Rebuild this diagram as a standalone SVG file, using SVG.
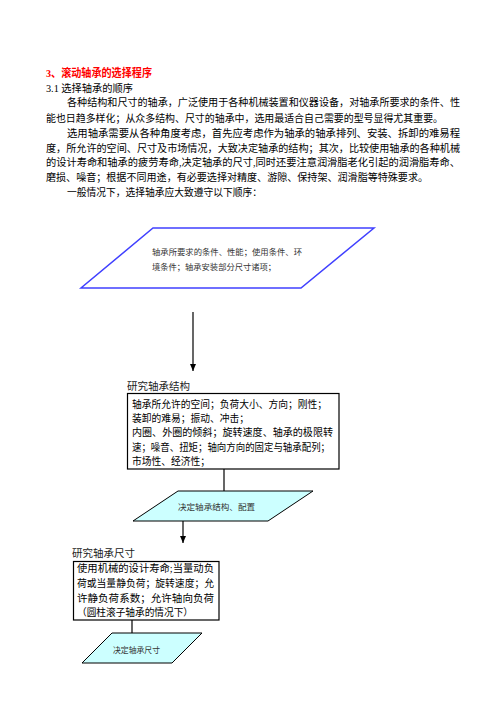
<svg xmlns="http://www.w3.org/2000/svg" width="500" height="706" viewBox="0 0 500 706">
<defs>
<style>
text{font-family:"Liberation Serif","Noto Sans CJK SC",serif;fill:#000;}
.p{font-size:10.5px;}
.t{font-size:11px;font-weight:bold;fill:#ff0000;}
.b{font-size:10px;}
.s{font-size:8.5px;fill:#333;}
.h{font-size:10.5px;fill:#222;}
.box{fill:#fff;stroke:#000;stroke-width:1.2;}
.cy{fill:#ccffff;stroke:#000;stroke-width:1;}
.bl{fill:#fff;stroke:#4040ff;stroke-width:1.5;}
.ln{stroke:#000;stroke-width:1.2;fill:none;}
</style>
<marker id="ah" markerWidth="8" markerHeight="8" refX="7" refY="4" orient="auto" markerUnits="userSpaceOnUse">
<path d="M0,1 L7,4 L0,7 Z" fill="#000"/>
</marker>
</defs>
<rect width="500" height="706" fill="#fff"/>
<g id="heading">
<text class="t" x="46" y="77" textLength="106" lengthAdjust="spacingAndGlyphs">3、滚动轴承的选择程序</text>
<text class="p" x="46" y="92" textLength="87" lengthAdjust="spacingAndGlyphs">3.1 选择轴承的顺序</text>
<text class="p" x="67" y="106" textLength="393" lengthAdjust="spacingAndGlyphs">各种结构和尺寸的轴承，广泛使用于各种机械装置和仪器设备，对轴承所要求的条件、性</text>
<text class="p" x="46" y="122" textLength="397" lengthAdjust="spacingAndGlyphs">能也日趋多样化；从众多结构、尺寸的轴承中，选用最适合自己需要的型号显得尤其重要。</text>
<text class="p" x="67" y="137" textLength="393" lengthAdjust="spacingAndGlyphs">选用轴承需要从各种角度考虑，首先应考虑作为轴承的轴承排列、安装、拆卸的难易程</text>
<text class="p" x="46" y="152" textLength="414" lengthAdjust="spacingAndGlyphs">度，所允许的空间、尺寸及市场情况，大致决定轴承的结构；其次，比较使用轴承的各种机械</text>
<text class="p" x="46" y="166" textLength="414" lengthAdjust="spacingAndGlyphs">的设计寿命和轴承的疲劳寿命,决定轴承的尺寸,同时还要注意润滑脂老化引起的润滑脂寿命、</text>
<text class="p" x="46" y="181" textLength="382" lengthAdjust="spacingAndGlyphs">磨损、噪音；根据不同用途，有必要选择对精度、游隙、保持架、润滑脂等特殊要求。</text>
<text class="p" x="67" y="196" textLength="195" lengthAdjust="spacingAndGlyphs">一般情况下，选择轴承应大致遵守以下顺序：</text>
</g>
<g id="connectors">
<line class="ln" x1="193" y1="312" x2="193" y2="371" marker-end="url(#ah)"/>
<line class="ln" x1="224" y1="469" x2="224" y2="491"/>
<line class="ln" x1="183" y1="521" x2="183" y2="543" marker-end="url(#ah)"/>
<line class="ln" x1="132" y1="620" x2="132" y2="633"/>
</g>
<g id="node-requirements">
<polygon class="bl" points="153,228 374,228 301,288 81,288"/>
<text class="s" x="152" y="255" textLength="150" lengthAdjust="spacingAndGlyphs">轴承所要求的条件、性能；使用条件、环</text>
<text class="s" x="152" y="270" textLength="124" lengthAdjust="spacingAndGlyphs">境条件；轴承安装部分尺寸诸项；</text>
</g>
<g id="node-structure">
<text class="h" x="127" y="390" textLength="63" lengthAdjust="spacingAndGlyphs">研究轴承结构</text>
<rect class="box" x="127.5" y="393.5" width="211.5" height="75.5"/>
<text class="b" x="132" y="408" textLength="195" lengthAdjust="spacingAndGlyphs">轴承所允许的空间；负荷大小、方向；刚性；</text>
<text class="b" x="132" y="422" textLength="117" lengthAdjust="spacingAndGlyphs">装卸的难易；振动、冲击；</text>
<text class="b" x="132" y="436" textLength="201" lengthAdjust="spacingAndGlyphs">内圈、外圈的倾斜；旋转速度、轴承的极限转</text>
<text class="b" x="132" y="451" textLength="198" lengthAdjust="spacingAndGlyphs">速；噪音、扭矩；轴向方向的固定与轴承配列；</text>
<text class="b" x="132" y="465" textLength="78" lengthAdjust="spacingAndGlyphs">市场性、经济性；</text>
</g>
<g id="node-decide-structure">
<polygon class="cy" points="178,491 313,491 268,521 133,521"/>
<text class="s" x="178" y="510" textLength="77" lengthAdjust="spacingAndGlyphs">决定轴承结构、配置</text>
</g>
<g id="node-size">
<text class="h" x="72" y="557" textLength="63" lengthAdjust="spacingAndGlyphs">研究轴承尺寸</text>
<rect class="box" x="73.5" y="561.5" width="145.5" height="58.5"/>
<text class="b" x="77" y="572" textLength="137" lengthAdjust="spacingAndGlyphs">使用机械的设计寿命;当量动负</text>
<text class="b" x="77" y="587" textLength="137" lengthAdjust="spacingAndGlyphs">荷或当量静负荷；旋转速度；允</text>
<text class="b" x="77" y="602" textLength="137" lengthAdjust="spacingAndGlyphs">许静负荷系数；允许轴向负荷</text>
<text class="b" x="77" y="616" textLength="116" lengthAdjust="spacingAndGlyphs">（圆柱滚子轴承的情况下）</text>
</g>
<g id="node-decide-size">
<polygon class="cy" points="112,633 202,633 172,663 82,663"/>
<text class="s" x="113" y="653" textLength="47" lengthAdjust="spacingAndGlyphs">决定轴承尺寸</text>
</g>
</svg>
